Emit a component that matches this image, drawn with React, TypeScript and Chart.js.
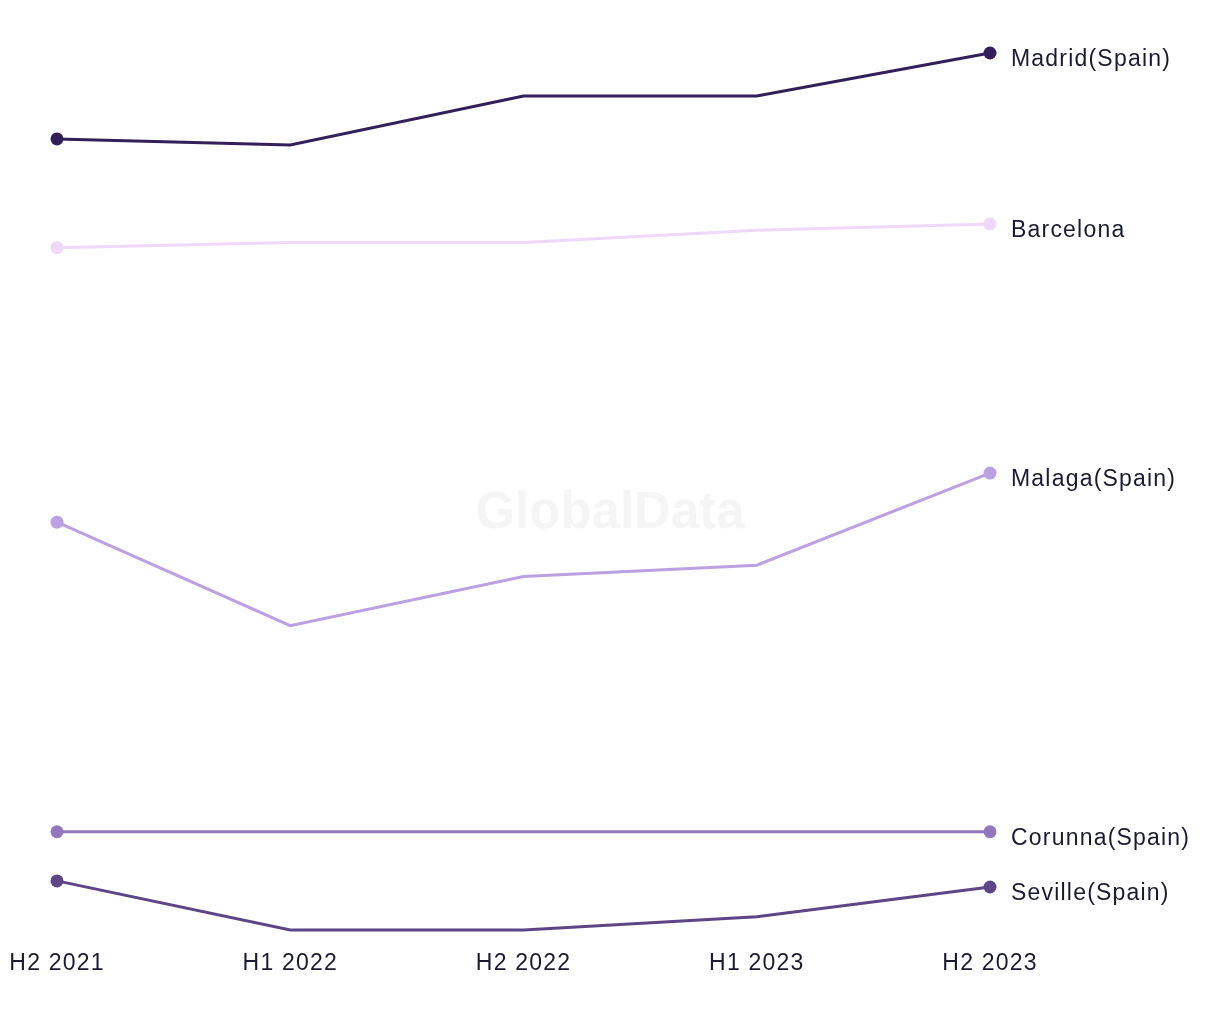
import React, { useEffect, useRef } from "react";
import { Chart, registerables } from "chart.js";

Chart.register(...registerables);

const periods = ["H2 2021", "H1 2022", "H2 2022", "H1 2023", "H2 2023"];
const seriesNames = ["Madrid(Spain)", "Barcelona", "Malaga(Spain)", "Corunna(Spain)", "Seville(Spain)"];
const madrid = [90.2, 89.5, 95.1, 95.1, 100.0];
const barcelona = [77.8, 78.4, 78.4, 79.8, 80.5];
const malaga = [46.5, 34.7, 40.3, 41.6, 52.1];
const corunna = [11.2, 11.2, 11.2, 11.2, 11.2];
const seville = [5.6, 0.0, 0.0, 1.5, 4.9];
const seriesColors = ["#33205a", "#f0d8fc", "#bba0e2", "#9377bd", "#5d4587"];

const TEXT_COLOR = "#1b1b2f";
const FONT_FAMILY = "'Liberation Sans', Arial, sans-serif";

const letterSpacingPlugin = {
  id: "letterSpacing",
  beforeDraw(chart: any) {
    (chart.ctx as any).letterSpacing = "1.2px";
  },
};

const watermarkPlugin = {
  id: "watermark",
  beforeDatasetsDraw(chart: any) {
    const { ctx } = chart;
    ctx.save();
    (ctx as any).letterSpacing = "0px";
    ctx.font = `bold 51px ${FONT_FAMILY}`;
    ctx.fillStyle = "#f5f5f5";
    ctx.textAlign = "center";
    ctx.textBaseline = "middle";
    ctx.fillText("GlobalData", 610, 514);
    ctx.restore();
  },
};

const endLabelPlugin = {
  id: "endLabels",
  afterDatasetsDraw(chart: any) {
    const { ctx } = chart;
    ctx.save();
    (ctx as any).letterSpacing = "1.2px";
    ctx.font = `23px ${FONT_FAMILY}`;
    ctx.fillStyle = TEXT_COLOR;
    ctx.textAlign = "left";
    ctx.textBaseline = "middle";
    chart.data.datasets.forEach((ds: any, i: number) => {
      const meta = chart.getDatasetMeta(i);
      const last = meta.data[meta.data.length - 1];
      if (!last) return;
      ctx.fillText(ds.label, last.x + 21, last.y + 7);
    });
    ctx.restore();
  },
};

export default function App() {
  const canvasRef = useRef<HTMLCanvasElement | null>(null);

  useEffect(() => {
    document.body.style.margin = "0";
    const canvas = canvasRef.current;
    if (!canvas) return;
    const values = [madrid, barcelona, malaga, corunna, seville];
    const chart = new Chart(canvas, {
      type: "line",
      data: {
        labels: periods,
        datasets: values.map((v, i) => ({
          label: seriesNames[i],
          data: v,
          borderColor: seriesColors[i],
          backgroundColor: seriesColors[i],
          pointBackgroundColor: seriesColors[i],
          pointBorderWidth: 0,
          borderWidth: 3,
          tension: 0,
          pointRadius: v.map((_, j) => (j === 0 || j === v.length - 1 ? 6.5 : 0)),
          pointHoverRadius: 0,
          clip: false as any,
        })),
      },
      options: {
        responsive: false,
        animation: false,
        maintainAspectRatio: false,
        layout: { padding: { left: 57, right: 230, top: 53, bottom: 0 } },
        plugins: {
          legend: { display: false },
          tooltip: { enabled: false },
          title: { display: false },
        },
        scales: {
          x: {
            type: "category",
            offset: false,
            grid: { display: false, drawTicks: false },
            border: { display: false },
            ticks: {
              color: TEXT_COLOR,
              font: { family: FONT_FAMILY, size: 23 },
              padding: 20,
              maxRotation: 0,
              autoSkip: false,
            },
            afterFit: (s: any) => {
              s.height = 90;
              s.paddingLeft = 0;
              s.paddingRight = 0;
            },
          },
          y: {
            display: false,
            min: 0,
            max: 100,
          },
        },
      },
      plugins: [letterSpacingPlugin, watermarkPlugin, endLabelPlugin],
    });
    return () => chart.destroy();
  }, []);

  return (
    <div style={{ width: 1220, height: 1020, background: "#ffffff" }}>
      <canvas ref={canvasRef} width={1220} height={1020} style={{ display: "block" }} />
    </div>
  );
}
